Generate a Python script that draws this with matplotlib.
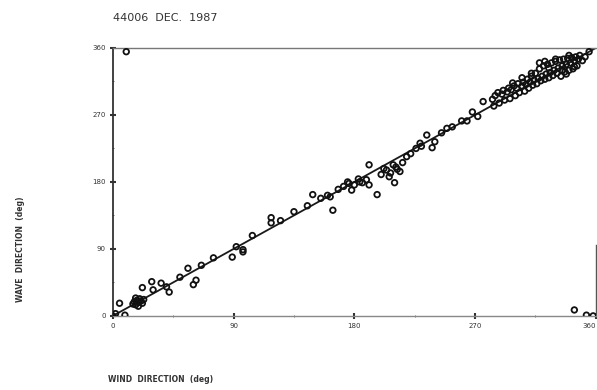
import numpy as np
from matplotlib import pyplot as plt

##########
# Data   #
##########

title = "44006  DEC.  1987"
xlabel = "WIND  DIRECTION  (deg)"
ylabel = "WAVE  DIRECTION  (deg)"
ticks = [0, 90, 180, 270, 360]

# low part of the scatter (wind, wave)
wind_low = [0, 2, 5, 9, 15, 16, 17, 18, 19, 20, 21, 22, 23, 17, 19, 22, 29, 30, 36, 40, 42,
            50, 56, 62, 60, 66, 75, 89, 92, 97, 97, 104]
wave_low = [0, 3, 17, 1, 16, 19, 15, 21, 18, 23, 20, 17, 22, 24, 13, 38, 46, 35, 44, 39, 32,
            52, 64, 48, 42, 68, 78, 79, 93, 86, 89, 108]

# middle part
wind_mid = [118, 118, 125, 135, 145, 149, 155, 160, 162, 164, 168, 172, 175, 176, 178, 180,
            183, 184, 186, 189, 191, 191, 197, 200, 202, 204, 206, 207, 209, 210, 211, 212,
            214, 216, 219, 222, 226, 229, 230, 234, 238, 240]
wave_mid = [125, 132, 128, 140, 148, 163, 158, 162, 160, 142, 170, 174, 180, 178, 169, 176,
            184, 180, 179, 183, 203, 176, 163, 190, 198, 196, 187, 192, 203, 179, 200, 197,
            194, 206, 214, 218, 225, 232, 228, 243, 226, 234]

# upper cluster
wind_up = [245, 249, 253, 260, 264, 268, 272, 276,
           283, 284, 285, 287, 288, 290, 291, 292, 294, 295, 296, 297, 299, 300, 301, 302,
           303, 305, 306, 307, 308, 309, 310, 311, 312, 313, 314, 315, 316, 317, 318, 319,
           320, 321, 322, 323, 324, 325, 326, 327, 328, 329, 330, 331, 332, 333, 334, 335,
           336, 337, 338, 339, 340, 341, 342, 343, 344, 345, 346, 347, 348, 350, 352, 355,
           298, 305, 318, 325, 330, 335, 340, 312, 322, 338, 344]
wave_up = [246, 252, 254, 262, 262, 274, 268, 288,
           291, 282, 296, 300, 286, 298, 303, 290, 301, 306, 292, 304, 309, 296, 306, 312,
           300, 309, 314, 302, 311, 318, 306, 314, 322, 310, 317, 326, 312, 319, 332, 316,
           322, 336, 318, 325, 338, 320, 327, 340, 323, 330, 342, 326, 333, 344, 322, 336,
           345, 328, 338, 346, 330, 340, 347, 332, 343, 348, 336, 345, 350, 343, 348, 355,
           313, 320, 340, 333, 345, 330, 350, 326, 342, 325, 335]

# points far from the line
wind_out = [10, 344, 353, 358]
wave_out = [355, 8, 1, 0]

##########
# Plot   #
##########

if __name__ == "__main__":
    fig = plt.figure(figsize=(5.97, 3.90), dpi=100)
    ax = fig.add_axes([0.189, 0.190, 0.809, 0.687])

    wind = wind_low + wind_mid + wind_up + wind_out
    wave = wave_low + wave_mid + wave_up + wave_out

    ax.plot([0, 360], [0, 360], color="#1a1a1a", lw=1.3, zorder=2)
    ax.scatter(wind, wave, s=16, facecolors="none", edgecolors="#111111",
               linewidths=1.3, zorder=3)

    ax.set_xlim(0, 360)
    ax.set_ylim(0, 360)
    ax.set_xticks(ticks)
    ax.set_yticks(ticks)
    ax.set_xticks(np.arange(45, 360, 90), minor=True)
    ax.set_yticks(np.arange(45, 360, 90), minor=True)
    ax.tick_params(which="major", direction="inout", length=4, width=1.5,
                   labelsize=5, colors="#333333", pad=3)
    ax.tick_params(which="minor", direction="inout", length=2, width=0.6, colors="#555555")
    ax.get_xticklabels()[-1].set_horizontalalignment("right")

    ax.spines["left"].set_color("#333333")
    ax.spines["left"].set_linewidth(1.3)
    ax.spines["bottom"].set_color("#888888")
    ax.spines["bottom"].set_linewidth(1.0)
    ax.spines["top"].set_color("#777777")
    ax.spines["top"].set_linewidth(1.0)
    ax.spines["right"].set_color("#555555")
    ax.spines["right"].set_linewidth(1.0)
    ax.spines["right"].set_bounds(0, 95)

    fig.text(0.189, 0.955, title, fontsize=8, color="#333333", va="center", ha="left")
    fig.text(0.181, 0.026, xlabel, fontsize=5.5, color="#333333", fontweight="bold",
             va="center", ha="left")
    fig.text(0.034, 0.36, ylabel, fontsize=5.5, color="#333333", fontweight="bold",
             va="center", ha="center", rotation=90)

    fig.savefig("out.png", dpi=100, facecolor="white")
